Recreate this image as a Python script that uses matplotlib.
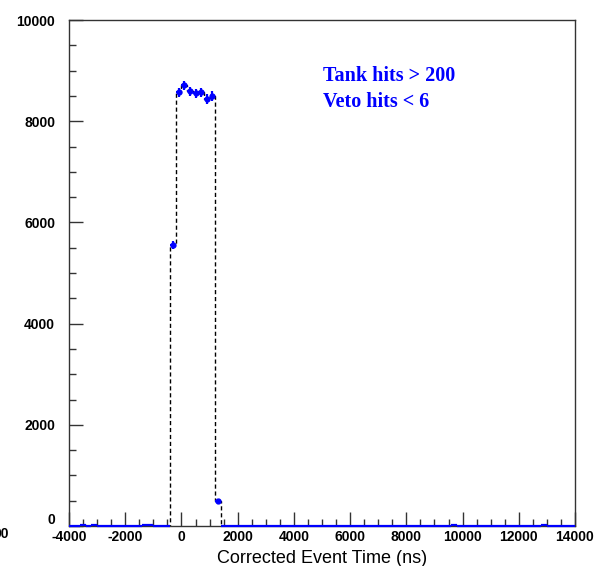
import matplotlib
matplotlib.use("Agg")
import matplotlib.pyplot as plt
import numpy as np
from matplotlib.ticker import MultipleLocator, FuncFormatter

plt.rcParams["axes.unicode_minus"] = False

# bin centres (ns), 200 ns wide bins from -4000 to 14000
bin_width = 200
centers = np.arange(-3900, 14000, bin_width)

# counts per bin
counts = [
    0, 0, 10, 0, 10, 0, 0, 0, 0, 0,          # -3900 .. -2100
    0, 0, 0, 10, 10, 0, 0, 0,                # -1900 .. -500
    5550, 8570, 8710, 8590, 8550, 8570, 8440, 8500,  # -300 .. 1100
    500,                                     # 1300
    0, 0, 0, 0, 0, 0, 0, 0, 0, 0,            # 1500 .. 3300
    0, 0, 0, 0, 0, 0, 0, 0, 0, 0,            # 3500 .. 5300
    0, 0, 0, 0, 0, 0, 0, 0, 0, 0,            # 5500 .. 7300
    0, 0, 0, 0, 0, 0, 0, 0, 0, 0,            # 7500 .. 9300
    0, 10, 0, 0, 0, 0, 0, 0, 0, 0,           # 9500 .. 11300
    0, 0, 0, 0, 0, 0, 0, 10, 0, 0,           # 11500 .. 13300
    0, 0, 0,                                 # 13500 .. 13900
]
counts = np.array(counts[:len(centers)], dtype=float)
errors = np.sqrt(counts)

label_lines = ["Tank hits > 200", "Veto hits < 6"]

fig = plt.figure(figsize=(6.05, 5.66), dpi=100)
ax = fig.add_axes([69 / 605, 1 - 526 / 566, (575 - 69) / 605, (526 - 20) / 566])

# dashed outline of the histogram
edges = np.append(centers - bin_width / 2, centers[-1] + bin_width / 2)
ax.stairs(counts, edges, color="black", linestyle=(0, (3, 2)), linewidth=1.0,
          zorder=2)

# error bars for every bin, markers only where there are real counts
eb = ax.errorbar(centers, counts, xerr=bin_width / 2, yerr=errors, fmt="none",
                 ecolor="#0000ff", elinewidth=1.6, capsize=0, zorder=5)
for coll in eb.lines[2]:
    coll.set_clip_on(False)
big = counts > 100
ax.plot(centers[big], counts[big], "o", color="#0000ff", markersize=3.5,
        zorder=6)

ax.set_xlim(-4000, 14000)
ax.set_ylim(0, 10000)
ax.xaxis.set_major_locator(MultipleLocator(2000))
ax.xaxis.set_minor_locator(MultipleLocator(500))
ax.yaxis.set_major_locator(MultipleLocator(2000))
ax.yaxis.set_minor_locator(MultipleLocator(500))
# the y "0" label is drawn by hand a bit higher, as in the original
ax.yaxis.set_major_formatter(FuncFormatter(lambda v, p: "" if v == 0 else f"{v:.0f}"))
ax.tick_params(which="major", direction="in", length=10, width=1,
               color="#333333", labelsize=10)
ax.tick_params(axis="x", which="major", pad=3)
ax.tick_params(axis="y", which="major", pad=10)
ax.tick_params(which="minor", direction="in", length=5, width=1,
               color="#333333")
for lab in ax.get_xticklabels() + ax.get_yticklabels():
    lab.set_fontweight("bold")
    lab.set_family("Liberation Sans")
for sp in ax.spines.values():
    sp.set_color("#333333")
    sp.set_linewidth(1)

ax.annotate("0", xy=(0, 0), xycoords="axes fraction", xytext=(-10, 4),
            textcoords="offset points", ha="right", va="center",
            fontsize=10, fontweight="bold", family="Liberation Sans")

ax.set_xlabel("Corrected Event Time (ns)", fontsize=13,
              family="Liberation Sans", labelpad=4)

ax.text(0.502, 0.89, label_lines[0], transform=ax.transAxes, color="#0000ff",
        fontsize=14.5, fontweight="bold", family="Liberation Serif",
        va="center")
ax.text(0.502, 0.838, label_lines[1], transform=ax.transAxes, color="#0000ff",
        fontsize=14.5, fontweight="bold", family="Liberation Serif",
        va="center")

# clipped label remnant at the left edge
fig.text(1 / 605, 1 - 534 / 566, "00", fontsize=10, fontweight="bold",
         family="Liberation Sans", ha="center", va="center")

plt.savefig("out.png", dpi=100)
plt.close()
